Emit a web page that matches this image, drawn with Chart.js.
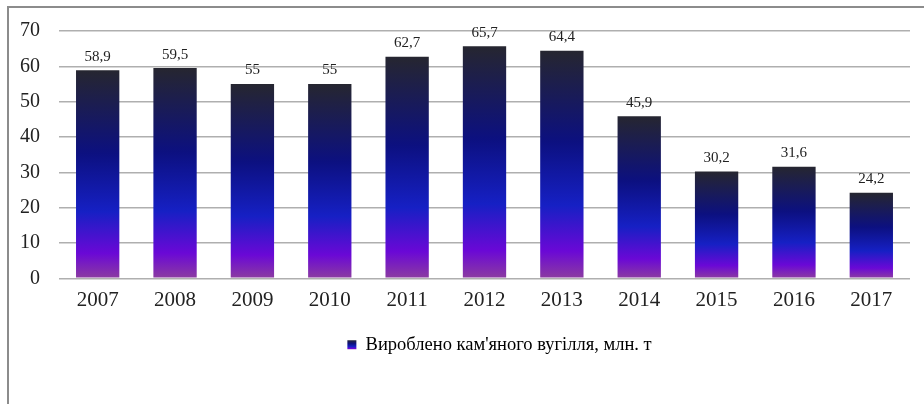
<!DOCTYPE html>
<html>
<head>
<meta charset="utf-8">
<script src="https://cdn.jsdelivr.net/npm/chart.js@4"></script>
<style>
  html, body { margin: 0; padding: 0; background: #fff; }
  #wrap { width: 924px; height: 404px; position: relative; }
</style>
</head>
<body>
<div id="wrap"><canvas id="coal" width="924" height="404"></canvas></div>
<script>
var years = ['2007', '2008', '2009', '2010', '2011', '2012', '2013', '2014', '2015', '2016', '2017'];
var coalOutput = [58.9, 59.5, 55, 55, 62.7, 65.7, 64.4, 45.9, 30.2, 31.6, 24.2];
var seriesName = "Вироблено кам'яного вугілля, млн. т";

var serif = "'Liberation Serif', 'Times New Roman', 'DejaVu Serif', serif";

// colour stops, top of bar -> bottom
function addStops(g) {
    g.addColorStop(0, 'rgb(38,38,48)');
    g.addColorStop(0.4, 'rgb(12,16,128)');
    g.addColorStop(0.68, 'rgb(22,32,196)');
    g.addColorStop(0.88, 'rgb(106,8,214)');
    g.addColorStop(1, 'rgb(140,60,160)');
    return g;
}

function barFill(c) {
    var chart = c.chart;
    if (!chart.chartArea || c.raw === undefined) return 'rgb(22,32,196)';
    var y = chart.scales.y;
    var top = y.getPixelForValue(c.raw);
    var base = y.getPixelForValue(0);
    return addStops(chart.ctx.createLinearGradient(0, top, 0, base));
}

var framePlugin = {
    id: 'frame',
    beforeDraw: function (chart) {
        var ctx = chart.ctx;
        ctx.save();
        ctx.strokeStyle = '#8c8c8c';
        ctx.lineWidth = 2;
        ctx.beginPath();
        ctx.moveTo(8, 404);
        ctx.lineTo(8, 7);
        ctx.lineTo(924, 7);
        ctx.stroke();
        ctx.restore();
    }
};

// legend sits a bit right of centre in the original
var legendShift = {
    id: 'legendShift',
    afterLayout: function (chart) {
        if (!chart.legend) return;
        chart.legend.left += 44;
        chart.legend.right += 44;
    }
};

var valueLabels = {
    id: 'valueLabels',
    afterDatasetsDraw: function (chart) {
        var ctx = chart.ctx;
        var meta = chart.getDatasetMeta(0);
        ctx.save();
        ctx.font = '15px ' + serif;
        ctx.fillStyle = '#222';
        ctx.textAlign = 'center';
        ctx.textBaseline = 'bottom';
        meta.data.forEach(function (bar, i) {
            var txt = String(coalOutput[i]).replace('.', ',');
            ctx.fillText(txt, bar.x, bar.y - 6);
        });
        ctx.restore();
    }
};

var ctx = document.getElementById('coal').getContext('2d');
var coalChart = new Chart(ctx, {
    type: 'bar',
    data: {
        labels: years,
        datasets: [{
            label: seriesName,
            data: coalOutput,
            backgroundColor: barFill,
            borderWidth: 0,
            categoryPercentage: 1,
            barPercentage: 0.56
        }]
    },
    options: {
        responsive: false,
        animation: false,
        layout: { padding: { left: 1, right: 14, top: 15, bottom: 40 } },
        scales: {
            y: {
                min: 0,
                max: 70,
                z: 1,
                border: { display: false },
                grid: { color: 'rgba(110,110,110,0.55)', lineWidth: 1.5, drawTicks: false },
                ticks: { stepSize: 10, padding: 19, color: '#222', font: { family: serif, size: 20 } }
            },
            x: {
                border: { display: false },
                grid: { display: false },
                ticks: { padding: 2, color: '#222', font: { family: serif, size: 21 } },
                afterFit: function (scale) { scale.height += 10; }
            }
        },
        plugins: {
            tooltip: { enabled: false },
            legend: {
                position: 'bottom',
                labels: {
                    boxWidth: 9,
                    boxHeight: 9,
                    padding: 10,
                    color: '#222',
                    font: { family: serif, size: 18.5 },
                    generateLabels: function (chart) {
                        var lg = chart.legend;
                        var mid = lg && lg.bottom ? (lg.top + lg.bottom) / 2 : 343;
                        var g = addStops(chart.ctx.createLinearGradient(0, mid - 5, 0, mid + 5));
                        return [{
                            text: seriesName,
                            fillStyle: g,
                            strokeStyle: 'rgba(0,0,0,0)',
                            lineWidth: 0,
                            datasetIndex: 0
                        }];
                    }
                }
            }
        }
    },
    plugins: [framePlugin, legendShift, valueLabels]
});
</script>
</body>
</html>
